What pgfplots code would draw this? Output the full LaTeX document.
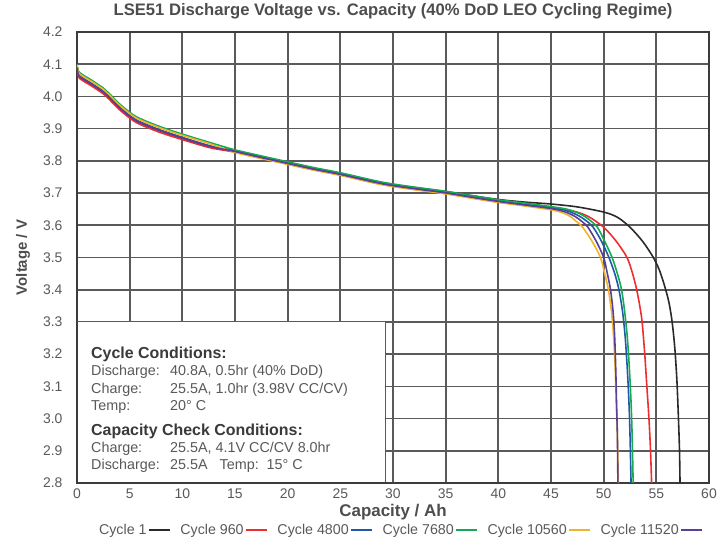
\documentclass[border=0pt]{standalone}
\usepackage{fontspec}
\setmainfont{Liberation Sans}
\usepackage{pgfplots}
\pgfplotsset{compat=1.18}
\definecolor{cA}{HTML}{2B2A29}
\definecolor{cB}{HTML}{EE2D2F}
\definecolor{cC}{HTML}{1F5AA6}
\definecolor{cD}{HTML}{17A853}
\definecolor{cE}{HTML}{F0B429}
\definecolor{cF}{HTML}{5A3E98}
\definecolor{gridc}{HTML}{5A5A5C}
\definecolor{framec}{HTML}{3C3C3E}
\definecolor{tickc}{HTML}{59595B}
\definecolor{titlec}{HTML}{4D4D4F}
\definecolor{boxhead}{HTML}{3A3A3C}
\begin{document}
\begin{tikzpicture}
\begin{axis}[
  scale only axis, width=632bp, height=451bp,
  xmin=0, xmax=60, ymin=2.8, ymax=4.2,
  xtick={0,5,10,15,20,25,30,35,40,45,50,55,60},
  ytick={2.8,2.9,3.0,3.1,3.2,3.3,3.4,3.5,3.6,3.7,3.8,3.9,4.0,4.1,4.2},
  xmajorgrids=true, ymajorgrids=true,
  major grid style={draw=gridc, line width=1.7pt},
  axis line style={draw=framec, line width=1.8pt},
  major tick length=0pt,
  /pgf/number format/assume math mode=true,
  yticklabel style={/pgf/number format/.cd, fixed, fixed zerofill, precision=1, /tikz/.cd,
    font=\fontsize{14}{16}\selectfont, text=tickc, xshift=-11bp},
  xticklabel style={font=\fontsize{14}{16}\selectfont, text=tickc, yshift=-2bp},
  title={LSE51 Discharge Voltage vs. Capacity (40\% DoD LEO Cycling Regime)},
  title style={at={(axis description cs:0.5,1.033)}, anchor=center,
    font=\bfseries\fontsize{16.7}{18}\selectfont, text=titlec},
  xlabel={Capacity / Ah},
  xlabel style={at={(axis description cs:0.5,-0.064)}, anchor=center,
    font=\bfseries\fontsize{17}{19}\selectfont, text=titlec},
  ylabel={Voltage / V},
  ylabel style={at={(axis description cs:-0.0854,0.5)}, anchor=center,
    font=\bfseries\fontsize{15}{17}\selectfont, text=titlec},
  legend plot pos=right,
  legend columns=-1,
  legend style={at={(axis description cs:0.512,-0.104)}, anchor=center, draw=none, fill=none,
    font=\fontsize{14.3}{16}\selectfont, text=tickc, column sep=0pt,
    nodes={inner xsep=1.2pt},
    /tikz/every even column/.append style={column sep=8bp}},
  legend image code/.code={\draw[#1, line width=2.4pt] (0bp,0bp) -- (21bp,0bp);},
  every axis plot/.append style={line width=1.6pt, smooth, tension=0.5, mark=none},
]
\addplot[cA] coordinates {(0,4.09)(0.15,4.065)(0.5,4.055)(1,4.045)(1.5,4.035)(2.5,4.013)(3,3.998)(4,3.965)(5.2,3.933)(6,3.918)(7.9,3.893)(10,3.87)(12.6,3.844)(15,3.832)(17.4,3.814)(20,3.795)(22.5,3.777)(25,3.761)(28.8,3.733)(31.5,3.719)(34.9,3.705)(37.5,3.692)(40,3.68)(42.5,3.672)(45,3.666)(47.5,3.657)(50.0,3.641)(51.3,3.625)(52.5,3.594)(53.7,3.55)(54.7,3.501)(55.3,3.46)(55.8,3.41)(56.2,3.36)(56.5,3.30)(56.75,3.22)(56.95,3.12)(57.1,3.0)(57.2,2.9)(57.25,2.8)};
\addlegendentry{Cycle 1}
\addplot[cB] coordinates {(0,4.085)(0.15,4.06)(0.5,4.05)(1,4.04)(1.5,4.03)(2.5,4.008)(3,3.993)(4,3.96)(5.2,3.928)(6,3.913)(7.9,3.888)(10,3.866)(12.6,3.841)(15,3.827)(17.4,3.809)(20,3.79)(22.5,3.772)(25,3.756)(28.8,3.728)(31.5,3.714)(34.9,3.699)(37.5,3.685)(40,3.672)(42.5,3.663)(45,3.655)(47,3.645)(48.5,3.628)(50.0,3.594)(51.2,3.55)(52.2,3.501)(52.7,3.455)(53.1,3.405)(53.4,3.355)(53.65,3.30)(53.9,3.2)(54.1,3.1)(54.3,3.0)(54.45,2.9)(54.55,2.8)};
\addlegendentry{Cycle 960}
\addplot[cC] coordinates {(0,4.093)(0.15,4.068)(0.5,4.058)(1,4.048)(1.5,4.038)(2.5,4.016)(3,4.001)(4,3.968)(5.2,3.936)(6,3.921)(7.9,3.896)(10,3.873)(12.6,3.847)(15,3.83)(17.4,3.812)(20,3.793)(22.5,3.775)(25,3.759)(28.8,3.731)(31.5,3.717)(34.9,3.702)(37.5,3.688)(40,3.675)(42.5,3.665)(45,3.655)(46.5,3.645)(47.6,3.63)(48.3,3.615)(49.0,3.594)(49.8,3.55)(50.5,3.50)(51.05,3.45)(51.45,3.40)(51.8,3.33)(52.05,3.25)(52.25,3.15)(52.4,3.05)(52.5,2.95)(52.6,2.8)};
\addlegendentry{Cycle 4800}
\addplot[cD] coordinates {(0,4.1)(0.15,4.078)(0.5,4.068)(1,4.058)(1.5,4.048)(2.5,4.026)(3,4.011)(4,3.978)(5.2,3.946)(6,3.931)(7.9,3.906)(10,3.883)(12.6,3.857)(15,3.834)(17.4,3.816)(20,3.797)(22.5,3.779)(25,3.763)(28.8,3.735)(31.5,3.721)(34.9,3.706)(37.5,3.692)(40,3.679)(42.5,3.669)(45,3.658)(46.5,3.65)(47.8,3.635)(48.6,3.618)(49.4,3.594)(50.1,3.55)(50.8,3.50)(51.3,3.45)(51.7,3.40)(52.0,3.33)(52.25,3.25)(52.45,3.15)(52.6,3.05)(52.7,2.95)(52.8,2.8)};
\addlegendentry{Cycle 7680}
\addplot[cE] coordinates {(0,4.098)(0.15,4.074)(0.5,4.064)(1,4.054)(1.5,4.044)(2.5,4.022)(3,4.007)(4,3.974)(5.2,3.942)(6,3.927)(7.9,3.902)(10,3.879)(12.6,3.853)(15,3.826)(17.4,3.808)(20,3.789)(22.5,3.771)(25,3.755)(28.8,3.727)(31.5,3.713)(34.9,3.698)(37.5,3.684)(40,3.671)(42.5,3.66)(45,3.648)(46,3.64)(46.8,3.628)(47.4,3.612)(48.0,3.594)(48.9,3.55)(49.7,3.50)(50.1,3.45)(50.45,3.40)(50.75,3.33)(50.95,3.25)(51.1,3.15)(51.2,3.05)(51.3,2.95)(51.4,2.8)};
\addlegendentry{Cycle 10560}
\addplot[cF] coordinates {(0,4.09)(0.15,4.066)(0.5,4.056)(1,4.046)(1.5,4.036)(2.5,4.014)(3,3.999)(4,3.966)(5.2,3.934)(6,3.919)(7.9,3.894)(10,3.871)(12.6,3.845)(15,3.829)(17.4,3.811)(20,3.792)(22.5,3.774)(25,3.758)(28.8,3.730)(31.5,3.716)(34.9,3.701)(37.5,3.687)(40,3.674)(42.5,3.663)(45,3.652)(46.3,3.642)(47.3,3.627)(48.0,3.61)(48.5,3.594)(49.3,3.55)(50.0,3.50)(50.35,3.45)(50.65,3.40)(50.9,3.33)(51.05,3.25)(51.15,3.15)(51.22,3.05)(51.3,2.95)(51.35,2.8)};
\addlegendentry{Cycle 11520}
\fill[white] (axis cs:0,2.8) rectangle (axis cs:29.3,3.30);
\draw[gridc, line width=0.9pt] (axis cs:0,3.30) -- (axis cs:29.3,3.30) -- (axis cs:29.3,2.8);
\draw[framec, line width=1.8pt] (axis cs:0,3.30) -- (axis cs:0,2.8) -- (axis cs:29.3,2.8);
\node[anchor=base west, inner sep=0pt, text=tickc] at (axis cs:1.33,3.222) {\vtop{\hsize=290bp\parindent=0pt\fontsize{14.4}{17.3}\selectfont
{\bfseries\fontsize{16}{17.3}\selectfont\color{boxhead}Cycle Conditions:}\par
\makebox[79bp][l]{Discharge:}40.8A, 0.5hr (40\% DoD)\par
\makebox[79bp][l]{Charge:}25.5A, 1.0hr (3.98V CC/CV)\par
\makebox[79bp][l]{Temp:}20° C\par
\vspace{7.5bp}
{\bfseries\fontsize{16}{17.3}\selectfont\color{boxhead}Capacity Check Conditions:}\par
\makebox[79bp][l]{Charge:}25.5A, 4.1V CC/CV 8.0hr\par
\makebox[79bp][l]{Discharge:}25.5A\hspace{12bp}Temp:\hspace{8bp}15° C\par}};
\end{axis}
\pgfresetboundingbox
\useasboundingbox ([shift={(-77bp,-57bp)}]current axis.south west) rectangle ([shift={(13bp,32bp)}]current axis.north east);
\end{tikzpicture}
\end{document}
